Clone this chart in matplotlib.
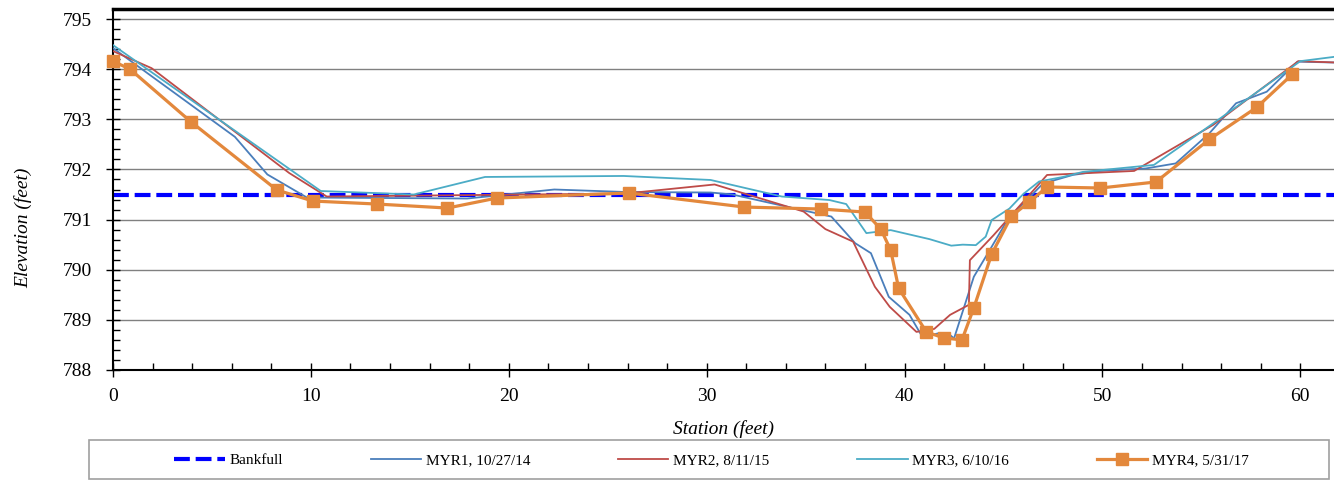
import matplotlib
matplotlib.use("Agg")
import matplotlib.pyplot as plt
from matplotlib.patches import Rectangle
from matplotlib.ticker import MultipleLocator

plt.rcParams['font.family'] = ['Liberation Serif', 'DejaVu Serif']

# cross-section survey data (station ft, elevation ft)
bankfull_x = [0, 62]
bankfull_y = [791.5, 791.5]

myr1_x = [0, 6.16, 7.8, 9.8, 17.9, 22.3, 25.9, 30.2, 31.3, 34.7, 36.3, 37.5, 38.3,
          39.2, 40.25, 40.9, 41.8, 42.2, 42.5, 43.5, 44.3, 45.3, 46.0, 47.0, 48.5,
          49.9, 52.2, 53.7, 55.4, 56.75, 58.3, 59.85, 62]
myr1_y = [794.42, 792.65, 791.9, 791.44, 791.42, 791.6, 791.55, 791.54, 791.5, 791.2,
          791.06, 790.53, 790.33, 789.46, 789.1, 788.66, 788.74, 788.73, 788.63, 789.86,
          790.39, 791.06, 791.32, 791.72, 791.89, 791.97, 792.02, 792.12, 792.72, 793.32,
          793.55, 794.15, 794.13]

myr2_x = [0, 1.95, 8.9, 10.8, 25.9, 30.4, 34.9, 36.0, 37.4, 38.5, 39.25, 40.6, 41.5,
          42.3, 43.25, 43.3, 44.5, 45.4, 47.2, 51.6, 55.6, 59.9, 62]
myr2_y = [794.36, 794.02, 791.93, 791.46, 791.52, 791.7, 791.16, 790.81, 790.56,
          789.66, 789.26, 788.76, 788.82, 789.1, 789.3, 790.19, 790.69, 791.09, 791.89,
          791.97, 792.89, 794.16, 794.13]

myr3_x = [0, 10.5, 15.2, 18.8, 25.8, 30.2, 33.8, 36.2, 37.05, 38.07, 39.3, 41.26,
          42.36, 42.94, 43.6, 44.1, 44.4, 45.3, 46.0, 46.8, 48.0, 49.0, 52.6, 55.6,
          60.0, 62]
myr3_y = [794.48, 791.57, 791.5, 791.85, 791.87, 791.79, 791.46, 791.39, 791.31,
          790.73, 790.79, 790.61, 790.48, 790.5, 790.49, 790.66, 790.99, 791.22, 791.51,
          791.76, 791.85, 791.95, 792.09, 792.92, 794.16, 794.26]

myr4_x = [0, 0.86, 3.94, 8.28, 10.1, 13.33, 16.9, 19.4, 26.06, 31.9, 35.8, 38.0, 38.8,
          39.3, 39.7, 41.1, 41.97, 42.9, 43.5, 44.4, 45.4, 46.3, 47.2, 49.9, 52.7,
          55.4, 57.8, 59.6]
myr4_y = [794.16, 794.0, 792.95, 791.59, 791.37, 791.31, 791.23, 791.43, 791.53,
          791.25, 791.21, 791.15, 790.81, 790.39, 789.63, 788.76, 788.64, 788.6, 789.24,
          790.31, 791.07, 791.35, 791.65, 791.63, 791.75, 792.6, 793.24, 793.9]

fig = plt.figure(figsize=(13.34, 4.8), dpi=100)
ax = fig.add_axes([113 / 1334, 110 / 480, 1 - 113 / 1334, 361 / 480])

ax.plot(bankfull_x, bankfull_y, color='#0000FF', lw=3, ls=(0, (3.8, 1.4)),
        label='Bankfull', zorder=2)
ax.plot(myr1_x, myr1_y, color='#4A7EBB', lw=1.3, label='MYR1, 10/27/14', zorder=3)
ax.plot(myr2_x, myr2_y, color='#BE4B48', lw=1.3, label='MYR2, 8/11/15', zorder=3)
ax.plot(myr3_x, myr3_y, color='#4BACC6', lw=1.3, label='MYR3, 6/10/16', zorder=3)
ax.plot(myr4_x, myr4_y, color='#E3883C', lw=2.3, marker='s', ms=8, label='MYR4, 5/31/17',
        zorder=4, clip_on=False)

ax.set_xlim(0, 61.7)
ax.set_ylim(788, 795.2)
ax.xaxis.set_major_locator(MultipleLocator(10))
ax.xaxis.set_minor_locator(MultipleLocator(2))
ax.yaxis.set_major_locator(MultipleLocator(1))
ax.yaxis.set_minor_locator(MultipleLocator(0.2))
ax.tick_params(which='major', direction='inout', length=10, width=1, labelsize=14,
               top=False, right=False)
ax.tick_params(axis='x', which='major', pad=8)
ax.tick_params(axis='y', which='major', pad=10)
ax.tick_params(which='minor', direction='in', length=5, width=1, top=False, right=False)
ax.grid(axis='y', which='major', color='#808080', lw=1)
ax.set_axisbelow(True)

ax.spines['right'].set_visible(False)
ax.spines['top'].set_linewidth(2.5)
ax.spines['left'].set_linewidth(1.5)
ax.spines['bottom'].set_linewidth(1.5)

ax.set_xlabel('Station (feet)', fontsize=14, style='italic', labelpad=11)
ax.set_ylabel('Elevation (feet)', fontsize=14, style='italic')
ax.yaxis.set_label_coords(-0.066, 0.393)

# legend frame drawn as a plain box below the axes
fig.patches.append(Rectangle((89 / 1334, 1 / 480), 1240 / 1334, 39 / 480,
                             transform=fig.transFigure, fill=False,
                             edgecolor='#A0A0A0', lw=1.2))
fig.legend(loc='center', bbox_to_anchor=(711.5 / 1334, 20 / 480), ncol=5, frameon=False,
           fontsize=11, handlelength=3.3, handletextpad=0.3, columnspacing=5.75)

fig.savefig('out.png', dpi=100)
